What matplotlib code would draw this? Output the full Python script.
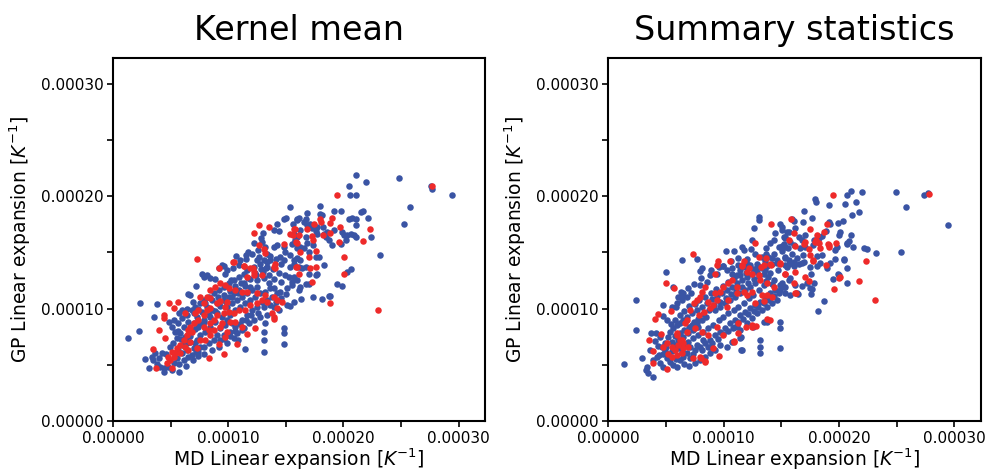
import numpy as np
import matplotlib
matplotlib.use("Agg")
import matplotlib.pyplot as plt
from matplotlib.ticker import FuncFormatter, MultipleLocator

# values in units of 1e-5 K^-1, (MD, GP) pairs
km_blue = [
    (21.1,21.9),(20.5,20.9),(21.97,21.3),(24.8,21.6),(27.6,20.9),(27.7,20.6),(29.4,20.1),(25.8,19.0),(25.3,17.5),(23.2,14.8),
    (20.6,20.1),(21.1,20.1),(18.0,19.1),(19.2,18.7),(19.8,18.7),(21.5,18.6),(21.7,18.7),(22.1,18.1),(22.4,16.4),(16.8,18.5),
    (17.95,18.4),(18.1,18.3),(16.7,18.0),(16.1,18.1),(15.97,17.9),(16.55,17.72),(17.13,17.57),(16.84,17.42),(17.28,17.13),
    (17.57,16.92),(17.71,16.62),(18.29,16.68),(18.44,16.33),(18.73,16.09),(19.02,15.64),(19.75,15.79),(20.04,16.53),(20.33,16.53),
    (20.62,16.62),(20.91,16.53),(21.05,16.33),(20.18,16.09),(19.89,16.83),(19.16,16.98),(18.58,16.83),(18.24,17.27),(17.71,17.27),
    (20.76,18.1),(21.11,18.0),(21.11,17.42),(20.47,17.93),(17.86,14.61),(17.65,14.55),(16.26,15.5),(16.55,15.35),(16.99,15.05),
    (15.68,16.68),(15.83,16.09),(15.54,15.79),(15.97,14.46),(15.68,14.31),(16.84,15.85),(17.36,15.64),(16.7,16.39),(16.26,16.98),
    (18.29,13.92),(20.62,13.48),(20.33,13.27),(19.45,12.18),(19.89,11.97),(18.73,11.1),(18.87,11.1),(18.15,10.87),(17.36,11.05),
    (16.35,10.84),(15.68,10.58),(15.39,10.25),(16.12,11.64),(16.26,11.94),(16.7,12.18),(16.99,12.18),(15.97,12.53),(15.68,12.83),
    (15.54,12.38),(17.57,12.98),(17.71,13.07),(16.99,13.07),(16.12,13.72),(16.41,13.57),(16.7,13.72),(15.68,14.01),(16.26,14.31),
    (15.39,19.08),(14.81,17.93),(15.01,18.1),(14.23,17.57),(13.94,16.98),(14.37,16.89),(15.62,17.57),(15.97,18.01),(12.98,16.74),
    (12.83,16.24),(12.92,15.94),(11.7,15.05),(11.56,14.76),(12.05,14.9),(10.66,14.67),(11.03,14.31),(9.64,13.78),(13.21,15.5),
    (13.36,14.9),(13.94,15.5),(14.23,15.64),(14.81,15.5),(14.95,15.05),(15.39,14.76),(15.82,15.94),(15.97,16.39),(15.97,15.35),
    (14.52,14.61),(14.81,14.31),(13.65,14.31),(12.49,14.31),(12.63,14.61),(13.07,14.31),(13.36,13.72),(15.39,13.72),
    (2.32,10.52),(2.26,8.0),(1.31,7.41),(2.76,5.48),(3.14,4.74),(3.57,9.27),(3.78,10.43),(4.36,4.68),(4.41,4.36),(3.8,5.1),
    (3.34,5.72),(3.48,5.42),(3.63,6.01),(4.07,4.83),(4.0,5.57),(4.21,6.01),(4.79,4.83),(5.08,4.53),(5.72,4.38),(5.31,5.12),
    (5.52,5.57),(5.95,6.01),(6.16,5.42),(6.53,5.72),(6.82,5.87),(7.2,6.16),(7.55,6.61),(7.11,6.9),(6.68,7.05),(6.24,7.5),
    (5.81,7.79),(5.52,7.35),(5.37,7.94),(5.08,8.38),(4.88,8.83),(5.23,8.98),(5.66,8.68),(5.95,9.12),(6.39,9.42),(6.82,9.87),
    (7.11,10.16),(7.55,10.46),(7.84,10.75),(8.28,11.05),(8.71,11.35),(9.15,11.64),(9.58,11.94),(10.02,12.24),(10.45,12.53),
    (10.89,12.83),(11.32,13.12),(11.61,13.42),(12.2,13.72),(12.78,14.01),(13.36,14.16),(6.68,11.2),(6.53,11.26),(7.69,13.12),
    (8.13,12.98),(7.84,12.83),(9.15,13.57),(9.44,13.87),(9.73,13.12),(10.22,12.53),(11.32,12.24),(11.9,11.94),(12.49,12.53),
    (13.07,12.68),(13.5,12.24),(13.94,11.79),(14.52,11.5),(15.1,11.79),(15.53,12.09),(15.1,10.31),(14.81,8.24),(14.81,7.79),
    (14.87,6.81),(13.07,7.94),(13.12,7.2),(13.12,6.16),(13.21,8.68),(11.47,6.37),(11.32,8.24),(10.45,7.35),(10.83,7.2),
    (9.87,6.9),(9.29,7.2),(9.58,7.64),(10.16,7.94),(10.6,8.38),(11.18,8.98),(11.61,9.42),(12.05,9.87),(12.49,10.16),
    (12.92,10.6),(13.36,10.75),(13.79,11.05),(14.23,11.35),(14.37,9.87),(13.94,10.16),(13.36,9.42),(12.78,9.27),(12.2,8.98),
    (11.76,8.68),(11.18,8.09),(10.74,7.79),(10.31,8.68),(9.87,8.98),(9.44,9.27),(9.0,9.57),(8.57,9.87),(8.13,10.16),
    (7.69,9.72),(7.26,9.27),(6.97,8.68),(6.68,8.09),(6.39,6.9),(6.97,6.46),(7.4,6.16),(7.84,6.61),(8.28,6.9),(8.71,7.2),
    (9.0,7.64),(9.29,8.24),(9.73,8.53),(10.16,9.42),(10.6,9.87),(11.03,10.16),(11.47,10.46),(11.9,10.75),(12.34,11.05),
    (12.78,11.35),(13.21,11.5),(13.65,11.79),(8.42,8.38),(7.98,7.94),(7.55,7.64),(7.26,7.2),(8.86,8.83),(7.84,8.83),
    (7.4,8.38),(8.42,9.27),(9.0,10.46),(9.58,10.75),(10.02,11.05),(10.45,11.35),(10.89,11.64),(9.87,10.16),(10.31,10.46),
    (10.74,10.75),(11.18,11.05),(11.61,11.35),(12.05,11.64),(12.49,11.94),
    (4.6,6.0),(4.9,6.6),(5.2,6.9),(5.6,6.3),(6.0,6.8),(6.4,6.3),(5.7,5.1),(6.3,4.9),(6.9,5.4),(7.4,5.8),(7.9,6.0),(8.6,6.3),
    (9.2,6.6),(9.6,7.3),(10.1,7.6),(10.6,8.0),(11.0,8.6),(11.5,9.0),(12.0,9.4),(12.6,9.6),(13.1,10.1),(13.6,10.3),(14.1,10.6),
    (14.6,10.9),(15.0,11.3),(14.6,12.4),(14.0,12.6),(13.5,13.0),(13.0,13.3),(12.4,13.0),(11.9,12.6),(11.4,12.0),(10.8,11.4),
    (10.3,11.0),(9.8,10.6),(9.3,10.2),(8.8,9.8),(8.3,9.4),(7.9,9.0),(7.5,8.6),(7.1,8.2),(6.7,7.6),(6.3,7.2),(5.9,7.3),(5.6,8.0),
    (6.1,8.4),(6.5,8.8),(7.0,9.6),(7.4,10.0),(8.0,10.5),(8.6,10.8),(9.1,11.0),(9.6,11.2),(10.1,11.6),(10.6,12.0),(11.1,12.3),
    (11.7,12.7),(12.3,13.2),(12.8,13.5),(13.3,13.6),(13.9,13.5),(14.4,13.2),(14.9,13.0),(15.3,12.8),(14.6,14.0),(14.1,14.4),
    (13.6,14.7),(12.6,15.2),(12.2,15.8),(11.5,14.4),(10.9,13.9),(10.4,13.6),(9.9,13.4),(8.8,12.6),(8.4,12.7),(7.2,12.0),
    (6.9,10.6),(6.4,10.0),(5.7,9.6),(6.0,9.9),
]
km_red = [
    (19.45,20.09),(27.73,20.92),(22.3,17.1),(21.7,16.0),(20.03,14.6),(19.69,17.27),(19.02,18.07),(18.79,17.66),(18.0,17.93),
    (18.06,17.7),(17.48,17.57),(15.74,17.07),(16.17,16.53),(16.84,17.07),(17.28,16.47),(17.34,16.09),(18.21,16.59),(18.87,16.77),
    (19.6,15.94),(17.57,15.14),(15.97,15.88),(16.2,15.05),(16.99,14.61),(17.65,13.72),(15.97,13.66),(17.13,13.63),(15.39,16.62),
    (23.03,9.87),(18.79,10.52),(20.04,13.12),(17.28,12.38),(16.12,13.07),(14.0,9.1),
    (12.69,17.48),(12.25,16.74),(13.56,17.3),(7.26,14.4),(14.81,15.73),(15.82,17.07),(15.62,16.59),(15.91,15.94),(12.63,15.64),
    (13.12,15.26),(13.15,14.96),(10.39,14.16),(11.38,13.78),(12.14,13.57),(14.08,13.57),(15.91,13.72),(9.15,13.57),
    (3.43,6.39),(4.36,9.42),(4.44,9.18),(4.01,8.09),(4.5,7.35),(4.88,10.52),(5.66,10.6),(5.23,10.01),(6.24,9.57),(6.97,8.68),
    (6.68,8.38),(6.53,8.09),(6.82,7.94),(6.39,7.64),(6.1,7.2),(6.68,7.05),(5.81,6.75),(6.24,6.61),(5.52,6.46),(5.08,6.16),
    (4.79,5.72),(5.23,5.72),(4.94,5.42),(5.08,4.68),(3.72,4.68),(4.65,5.12),(5.37,6.01),(5.81,6.01),(7.26,6.46),(6.53,6.31),
    (7.98,7.2),(7.49,7.2),(8.42,7.64),(8.28,5.57),(9.58,5.93),(9.15,6.81),(9.67,7.5),(9.87,7.94),(10.74,6.84),(9.73,10.16),
    (9.87,10.55),(9.29,10.7),(9.0,10.46),(8.42,10.01),(8.13,9.87),(7.84,9.42),(7.4,8.98),(7.84,8.38),(8.28,8.09),(8.71,8.09),
    (9.29,8.38),(9.44,8.68),(8.71,8.98),(8.42,8.68),(9.0,9.42),(9.58,9.57),(10.02,9.72),(10.16,8.83),(10.6,8.83),(11.18,8.38),
    (12.34,8.24),(11.61,7.73),(10.45,9.57),(10.89,9.87),(11.47,9.87),(11.9,10.31),(12.49,10.46),(12.92,10.75),(13.36,10.6),
    (13.94,9.27),(13.79,9.57),(14.23,10.01),(14.66,10.6),(14.23,10.75),(13.94,11.05),(13.21,11.2),(12.49,11.35),(11.61,11.5),
    (11.18,11.5),(10.6,11.64),(10.02,11.79),(9.73,12.09),(9.29,12.24),(8.86,11.94),(8.42,11.64),(8.13,11.05),(7.55,11.05),
    (7.84,10.46),(7.32,9.92),(7.11,9.57),(11.61,12.83),(12.2,13.27),(11.32,13.78),(11.9,13.57),(10.45,14.16),(13.94,13.72),
    (14.08,14.01),(12.2,12.98),(12.92,12.98),(8.42,10.9),
]
ss_blue = [
    (1.39,5.04),(2.4,10.73),(2.4,8.06),(2.89,5.63),(3.24,4.53),(3.47,4.24),(3.85,3.94),(3.33,4.8),(4.72,10.3),(4.98,13.3),
    (6.39,14.3),(7.69,14.4),(24.9,20.4),(25.8,19.0),(25.4,15.05),(29.4,17.4),(27.4,20.1),(27.7,20.3),(21.98,20.41),(21.06,20.44),
    (20.68,20.15),(21.43,19.53),(21.12,18.37),(21.7,18.64),(20.54,19.32),(21.03,16.53),(20.68,15.85),(22.13,15.41),(22.42,15.26),
    (23.23,14.99),(21.17,15.44),(17.93,19.73),(18.02,19.5),(19.09,19.23),(17.0,18.7),(20.68,13.57),(20.68,12.24),(19.9,13.07),
    (19.44,12.59),(20.39,14.4),(18.66,10.67),(18.17,9.81),(17.53,11.29),(17.5,11.79),(16.34,11.35),(14.9,8.83),(14.9,8.24),
    (14.9,6.52),(13.16,7.2),(13.16,6.61),(13.16,6.01),(13.74,8.83),(11.54,6.31),(11.51,7.44),(11.14,8.47),(6.36,11.14),
    (5.64,11.94),(12.44,16.09),(13.02,18.16),(13.02,17.87),(12.64,17.21),
    (3.7,7.85),(4.05,7.14),(4.34,6.67),(4.63,6.55),(4.92,6.25),(5.21,5.96),(3.62,6.31),(3.91,5.42),(4.19,5.72),(4.48,5.12),
    (4.77,4.83),(5.06,5.57),(5.35,5.27),(5.64,4.98),(5.93,4.83),(6.22,5.42),(6.51,5.72),(6.36,6.16),(6.07,6.46),(5.79,6.75),
    (5.5,7.05),(5.21,7.44),(5.35,7.94),(5.64,8.24),(5.93,8.53),(6.22,8.68),(6.51,8.98),(6.86,9.27),(7.23,9.57),(7.67,9.87),
    (8.1,10.16),(8.53,10.46),(8.97,10.81),(9.4,11.11),(9.84,11.41),(10.27,11.64),(10.7,11.94),(11.14,12.24),(11.57,12.53),
    (12.0,12.83),(12.44,13.07),(12.87,13.27),(13.31,13.57),(13.74,13.78),(14.17,13.96),(14.61,14.07),(5.06,8.98),(4.77,9.33),
    (5.5,10.16),(5.93,10.52),(6.36,10.75),(6.8,11.05),(7.14,11.35),(6.51,11.35),(6.07,11.05),(7.95,12.09),(8.53,12.38),
    (8.82,12.98),(9.4,13.12),(9.55,13.72),(9.92,13.78),(10.27,13.42),(7.95,13.36),(10.7,13.12),(11.14,12.98),(11.43,13.42),
    (11.86,13.72),(12.29,13.87),(12.87,14.01),(13.45,13.12),(13.88,12.83),(14.32,12.53),(14.9,12.09),(15.33,11.94),(15.62,12.53),
    (13.45,12.09),(13.02,11.64),(12.58,11.2),(12.15,10.9),(11.72,10.46),(11.28,10.16),(10.85,9.87),(10.41,9.57),(9.98,9.27),
    (9.55,8.98),(9.11,8.53),(8.68,8.24),(8.24,7.94),(7.81,7.64),(7.38,7.35),(6.94,7.05),(6.51,6.75),(7.09,6.61),(7.52,6.31),
    (7.95,6.61),(8.39,6.9),(8.82,7.2),(9.26,7.64),(9.69,7.94),(10.12,8.24),(10.56,8.68),(10.99,8.98),(11.43,9.42),(11.86,9.72),
    (12.29,10.01),(12.73,10.31),(13.16,10.6),(13.6,11.05),(14.03,11.35),(14.46,11.64),(11.57,6.31),(11.43,7.35),
    (10.7,7.05),(10.27,6.55),(9.69,6.75),(9.26,6.31),(8.82,6.01),(8.39,5.72),(7.95,5.42),(7.52,5.12),(7.09,5.57),(6.8,6.01),
    (8.82,6.61),(8.24,7.2),(7.81,8.38),(7.38,8.09),(6.94,7.79),(6.51,7.5),(6.07,7.2),(8.48,9.27),(8.1,8.98),(7.67,8.68),
    (7.23,8.53),(9.26,9.87),(9.69,10.16),(10.12,10.46),(10.56,10.75),(10.99,11.05),(11.43,11.35),(11.86,11.64),(12.29,11.94),
    (12.73,12.24),(10.99,8.38),(11.43,8.09),(12.0,8.68),(12.44,9.12),(12.87,9.57),(13.31,9.87),(13.74,10.16),(14.17,10.46),
    (14.61,10.75),(13.45,8.83),(12.58,8.38),(4.92,6.96),(4.48,7.44),(4.14,7.79),
    (10.21,15.14),(10.85,15.14),(11.57,15.44),(11.77,15.2),(11.22,14.46),(12.0,14.37),(13.68,15.35),(14.03,15.85),(14.32,16.09),
    (14.75,15.44),(15.04,15.56),(15.33,15.44),(14.41,16.74),(14.9,17.57),(15.04,16.98),(15.33,16.39),(15.62,16.83),(13.68,14.9),
    (13.88,14.61),(14.32,14.9),(9.98,13.78),(10.7,13.57),(8.1,13.57),(12.0,13.96),(12.87,13.72),(13.6,14.22),(14.61,14.31),
    (15.33,14.46),(15.62,14.31),
    (17.68,18.04),(16.84,17.72),(15.91,18.01),(16.06,17.78),(15.04,17.27),(15.48,16.83),(16.2,17.13),(15.33,16.24),(15.19,15.79),
    (16.49,16.33),(16.78,16.09),(17.07,16.53),(17.73,15.65),(17.79,16.09),(18.23,16.24),(18.52,16.45),(18.89,16.92),(19.09,17.72),
    (19.24,17.57),(19.88,17.66),(20.34,17.81),(20.11,16.83),(19.96,16.53),(20.83,16.03),(20.69,15.79),(19.82,15.5),(19.67,15.2),
    (20.4,14.31),(19.67,14.37),(18.52,14.76),(18.08,14.67),(17.5,13.72),(18.08,13.78),(18.37,14.02),(18.95,13.57),(16.78,14.02),
    (16.06,13.78),(15.48,13.66),(16.35,14.46),(16.87,14.81),(15.91,14.9),(15.33,14.61),(15.04,15.14),(15.54,15.35),(16.06,15.64),
    (16.58,15.35),(17.07,15.44),(15.19,16.39),(15.77,15.94),
    (15.33,13.87),(15.62,14.01),(16.06,14.16),(16.49,14.01),(16.92,14.16),(19.24,14.07),(17.56,13.12),(17.79,12.24),(19.96,12.98),
    (15.77,12.68),(16.2,12.09),(16.78,12.0),(17.21,12.24),(17.65,11.7),(16.41,11.26),(15.77,11.2),(15.33,11.35),(14.9,11.64),
    (15.19,11.94),(15.04,12.24),
    (4.4,5.9),(4.7,6.0),(5.0,6.6),(5.5,6.2),(5.9,5.5),(6.6,5.1),(7.0,4.9),(7.3,6.0),(7.7,6.8),(8.1,6.3),(8.6,6.6),(9.0,6.9),
    (9.5,7.3),(9.9,7.7),(10.4,8.0),(10.8,8.3),(11.2,8.8),(11.7,9.1),(12.1,9.5),(12.6,9.8),(13.0,10.1),(13.5,10.5),(13.9,10.8),
    (14.4,11.1),(14.8,11.4),(14.2,12.2),(13.7,12.5),(13.1,12.9),(12.6,12.6),(12.1,12.3),(11.6,11.9),(11.1,11.6),(10.6,11.3),
    (10.2,10.9),(9.7,10.6),(9.2,10.3),(8.7,9.9),(8.2,9.5),(7.8,9.1),(7.4,8.8),(7.0,8.4),(6.6,8.1),(6.2,7.8),(5.8,7.6),(5.4,8.6),
    (5.8,9.0),(6.2,9.4),(6.6,9.8),(7.0,10.2),(7.5,10.4),(7.9,10.8),(8.4,11.0),(8.9,11.4),(9.3,11.7),(9.9,12.0),(10.4,12.4),
    (10.9,12.7),(11.4,13.0),(11.9,13.2),(12.5,13.5),(13.0,13.8),(13.6,13.4),(14.0,13.2),(14.7,13.4),(14.2,14.5),(13.3,14.6),
    (12.7,14.9),(12.4,15.3),(11.2,13.9),(10.6,14.2),(8.9,13.4),(8.0,12.7),(7.4,12.2),(6.9,11.8),(6.3,11.5),(5.9,10.1),
]
ss_red = [
    (23.08,10.76),(21.75,12.47),(22.36,14.25),(20.02,12.68),(20.1,12.83),(19.55,11.7),(19.44,20.15),(27.77,20.18),(15.82,18.01),
    (16.05,16.77),(17.47,17.1),(18.95,17.57),(18.71,16.83),(19.09,15.7),(18.02,16.09),(16.26,11.35),(14.03,8.98),(12.79,8.44),
    (12.44,8.39),(11.22,7.79),(10.88,7.05),(9.63,5.81),(8.42,5.27),(8.04,5.63),(7.38,14.84),(9.5,14.2),(10.56,14.22),
    (12.73,15.88),(13.02,14.61),(14.12,17.57),(13.65,14.46),(4.98,12.24),(5.7,11.79),(4.31,9.54),(4.08,9.1),(5.41,9.81),
    (3.56,7.2),(4.6,7.73),(3.88,6.22),(3.85,5.13),(5.06,4.62),(5.93,7.79),
    (4.77,6.61),(5.06,6.9),(5.5,6.55),(5.79,6.31),(6.07,6.75),(6.22,7.2),(6.45,6.9),(5.93,5.87),(5.5,5.72),(5.21,5.96),
    (6.51,6.46),(6.36,6.01),(6.94,6.61),(6.86,7.94),(6.65,8.68),(6.8,8.98),(7.09,9.87),(7.43,10.46),(7.67,10.75),(7.95,10.99),
    (8.1,11.5),(8.39,11.94),(8.68,10.6),(9.11,10.31),(9.4,10.75),(9.26,11.35),(9.69,11.5),(9.98,11.94),(10.41,10.75),
    (10.27,10.16),(10.41,12.24),(10.7,12.53),(11.14,11.94),(11.14,11.35),(11.72,11.5),(12.0,11.2),(12.44,11.5),(12.73,10.52),
    (13.45,10.7),(13.31,11.2),(13.74,11.2),(14.17,11.05),(14.32,11.94),(13.74,12.24),(13.16,12.53),(13.02,12.98),(12.0,13.27),
    (12.15,13.57),(11.57,13.87),(12.44,13.12),(13.45,13.87),(14.03,14.01),(14.9,14.01),(15.33,13.12),(9.26,13.12),(9.4,13.87),
    (11.28,8.68),(11.92,8.38),(12.44,8.53),(13.74,9.04),(10.85,7.11),(9.98,7.64),(9.11,6.46),(8.39,5.33),(7.38,5.57),
    (7.95,5.72),(8.68,7.64),(8.1,7.94),(7.52,8.24),(7.9,9.42),(8.3,9.72),(8.82,10.01),(9.4,8.38),(5.93,7.64),(6.36,7.2),
    (11.72,14.25),(11.57,13.78),(13.22,13.66),(14.09,13.84),(14.84,14.02),(15.62,16.09),
    (18.08,16.59),(17.07,15.94),(16.92,15.79),(17.94,15.94),(18.23,15.85),(19.01,15.79),(19.09,15.44),(19.76,15.85),(18.37,15.35),
    (17.36,15.26),(17.5,14.76),(17.73,14.31),(16.2,15.56),(18.89,13.87),
    (16.2,13.27),(17.07,12.83),(17.36,12.47),(16.06,12.3),(16.2,11.41),(15.28,13.07),(17.71,14.25),
]

titles = ["Kernel mean", "Summary statistics"]
xlabel = "MD Linear expansion [$K^{-1}$]"
ylabel = "GP Linear expansion [$K^{-1}$]"
blue = "#3a54a4"
red = "#ee2a2a"
lim = 0.000323

fig = plt.figure(figsize=(9.89, 4.70), dpi=100)
ax1 = fig.add_axes([0.1146, 0.1043, 0.3758, 0.7723])
ax2 = fig.add_axes([0.6151, 0.1043, 0.3768, 0.7723])


def fmt(v, pos):
    # only every other tick is labelled
    if abs(round(v / 5e-5)) % 2 == 1:
        return ""
    return "%.5f" % v


for ax, title, bl, rd in [(ax1, titles[0], km_blue, km_red), (ax2, titles[1], ss_blue, ss_red)]:
    bx, by = zip(*bl)
    rx, ry = zip(*rd)
    ax.scatter(np.array(bx) * 1e-5, np.array(by) * 1e-5, s=22, c=blue, linewidths=0)
    ax.scatter(np.array(rx) * 1e-5, np.array(ry) * 1e-5, s=22, c=red, linewidths=0)
    ax.set_xlim(0, lim)
    ax.set_ylim(0, lim)
    ax.xaxis.set_major_locator(MultipleLocator(5e-5))
    ax.yaxis.set_major_locator(MultipleLocator(5e-5))
    ax.xaxis.set_major_formatter(FuncFormatter(fmt))
    ax.yaxis.set_major_formatter(FuncFormatter(fmt))
    ax.tick_params(labelsize=11, length=4, width=1.2, pad=3)
    for sp in ax.spines.values():
        sp.set_linewidth(1.5)
    ax.set_title(title, fontsize=24, pad=13)
    ax.set_xlabel(xlabel, fontsize=13.5, labelpad=0.5)
    ax.set_ylabel(ylabel, fontsize=13.5, labelpad=6)

fig.savefig("out.png", dpi=100)
